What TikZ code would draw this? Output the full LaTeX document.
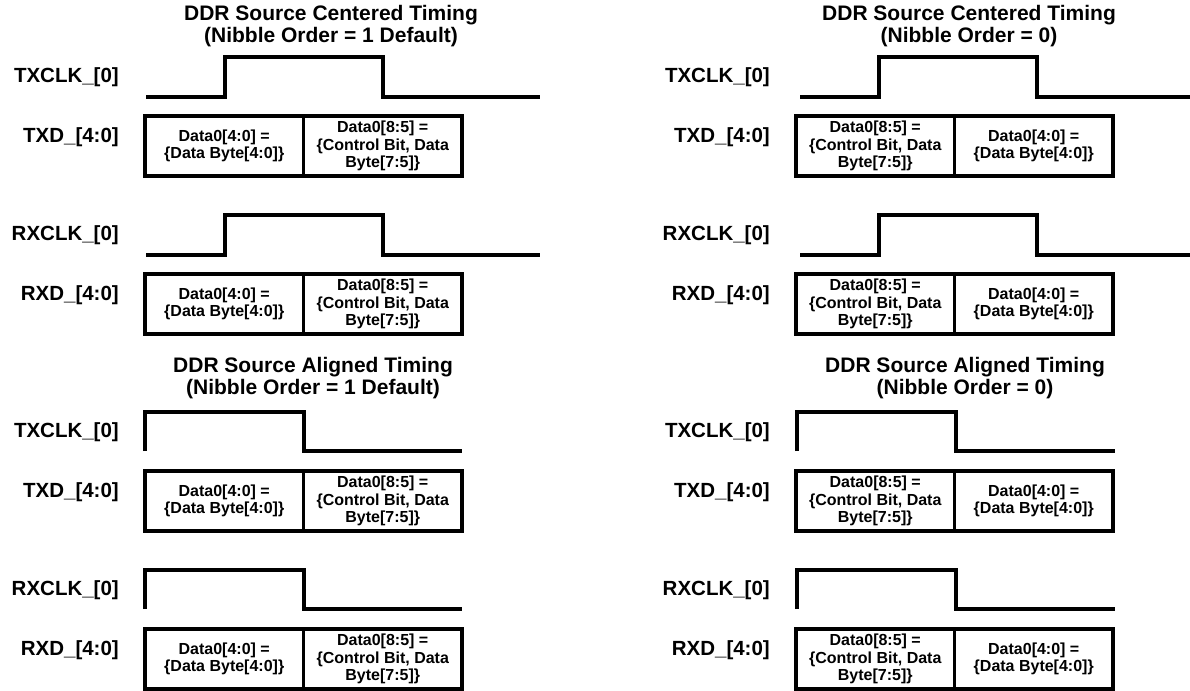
\documentclass[tikz,border=0pt]{standalone}
\usepackage{fontspec}
\setmainfont{Liberation Sans}
\usetikzlibrary{positioning}
\tikzset{
	sig/.style={anchor=east, inner sep=0pt, font=\fontsize{20.5}{22}\selectfont\bfseries},
	heading/.style={align=center, inner sep=0pt, font=\fontsize{21}{22}\selectfont\bfseries},
	nibble/.style={draw, line width=3.3pt, outer sep=0pt, inner sep=0pt,
			minimum width=158.5pt, minimum height=60pt, align=center,
			font=\fontsize{16}{17.5}\selectfont\bfseries},
	wave/.style={line width=3.5pt}
}
\newcommand{\lownib}{Data0[4:0] =\\\{Data Byte[4:0]\}}
\newcommand{\highnib}{Data0[8:5] =\\\{Control Bit, Data\\Byte[7:5]\}}

\begin{document}
\begin{tikzpicture}[x=1pt, y=-1pt]
	\useasboundingbox (0,0) rectangle (1190,690);
	% four panels: labels, titles and data boxes
	\foreach \p/\dx/\dy/\tx/\ty/\kind/\ord/\first/\second in {
			a/0/0/331/26/Centered/{1 Default}/\lownib/\highnib,
			b/651/0/318/26/Centered/0/\highnib/\lownib,
			c/0/355/313/23/Aligned/{1 Default}/\lownib/\highnib,
			d/651/355/314/23/Aligned/0/\highnib/\lownib}{
		\begin{scope}[xshift=\dx pt, yshift=-\dy pt]
			\node[heading] (\p-title) at (\tx,\ty) {DDR Source \kind{} Timing\\(Nibble Order = \ord)};
			\foreach \s/\sy in {TX/0, RX/158}{
				\node[sig] (\p\s-clk) at (119,77+\sy) {\s CLK\_[0]};
				\node[sig] (\p\s-d) at (119,137+\sy) {\s D\_[4:0]};
				\node[nibble, anchor=west] (\p\s-lo) at (145,146+\sy) {\first};
				\node[nibble, right=0pt of \p\s-lo] (\p\s-hi) {\second};
			}
		\end{scope}
	}
	% centred clocks
	\foreach \xa/\xb/\xc/\xd in {146/225/383/540, 800/879/1037/1190}
		\foreach \sy in {57,215}
			\draw[wave] (\xa,\sy+40) -| (\xb,\sy) -| (\xc,\sy+40) -- (\xd,\sy+40);
	% aligned clocks
	\foreach \xa/\xb/\xc in {145/304/462, 797/956/1115}
		\foreach \sy in {412,570}
			\draw[wave] (\xa,\sy+39) |- (\xb,\sy) |- (\xc,\sy+39);
\end{tikzpicture}
\end{document}
